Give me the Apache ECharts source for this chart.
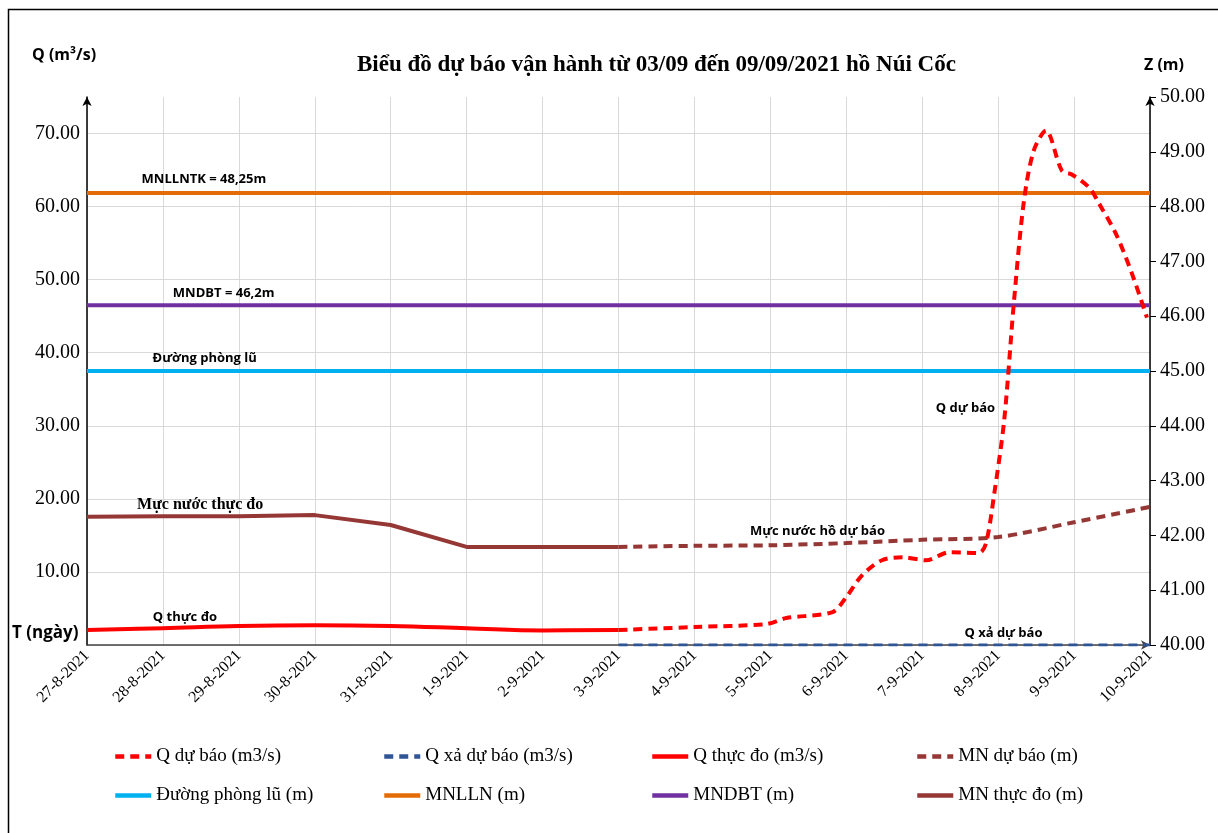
<!DOCTYPE html>
<html>
<head>
<meta charset="utf-8">
<script src="https://cdn.jsdelivr.net/npm/echarts@6/dist/echarts.min.js"></script>
<style>html,body{margin:0;padding:0;background:#fff}#c{width:1218px;height:833px}</style>
</head>
<body>
<div id="c"></div>
<script>
// Day labels (x index 0..14)
var dates = ['27-8-2021','28-8-2021','29-8-2021','30-8-2021','31-8-2021','1-9-2021','2-9-2021','3-9-2021','4-9-2021','5-9-2021','6-9-2021','7-9-2021','8-9-2021','9-9-2021','10-9-2021'];

// Q forecast (m3/s): [day index, value]
var qForecast = [[7,2.05],[8,2.46],[8.95,2.87],[9.21,3.69],[9.82,4.51],[10.0,6.56],[10.21,9.57],[10.47,11.6],[10.74,12.0],[11.05,11.6],[11.36,12.7],[11.75,12.6],[11.84,13.9],[11.95,20.8],[12.08,30.8],[12.21,47.2],[12.34,60.8],[12.47,67.7],[12.63,70.4],[12.84,64.9],[12.97,64.4],[13.2,62.6],[13.33,60.4],[13.55,56.3],[13.76,50.9],[13.96,44.8]];
// Q discharge forecast
var qRelease = [[7,0],[8,0],[9,0],[10,0],[11,0],[12,0],[13,0],[14,0]];
// Q measured
var qMeasured = [[0,2.05],[1,2.3],[2,2.6],[3,2.7],[4,2.6],[5,2.3],[6,2.0],[7,2.05]];
// Water level forecast (m)
var zForecast = [[7,41.79],[8,41.81],[9,41.82],[10,41.86],[11,41.92],[12,41.97],[13,42.24],[14,42.52]];
// Water level measured (m)
var zMeasured = [[0,42.34],[1,42.35],[2,42.35],[3,42.37],[4,42.19],[5,41.79],[6,41.79],[7,41.79]];
// Reference levels
var floodLine = [[0,45.0],[14,45.0]];
var mnlln = [[0,48.25],[14,48.25]];
var mndbt = [[0,46.2],[14,46.2]];

var serif = 'Liberation Serif';
var sans = 'Open Sans';

function ann(text, coord, font, size) {
  return {
    symbol: 'circle', symbolSize: 0,
    data: [{coord: coord, value: text}],
    label: {show: true, position: 'inside', formatter: text, color: '#000',
      fontFamily: font, fontWeight: 'bold', fontSize: size}
  };
}

var chart = echarts.init(document.getElementById('c'));
var legendText = {fontFamily: serif, fontSize: 19, color: '#000'};
function col(left, items) {
  return {left: left, top: 747, orient: 'vertical', itemGap: 20, itemWidth: 36, itemHeight: 16,
    data: items, textStyle: legendText, padding: 0,
    itemStyle: {opacity: 0}, lineStyle: {width: 4.5}};
}
chart.setOption({
  animation: false,
  title: {text: 'Biểu đồ dự báo vận hành từ 03/09 đến 09/09/2021 hồ Núi Cốc', left: 352, top: 49,
    textStyle: {fontFamily: serif, fontWeight: 'bold', fontSize: 23, color: '#000'}},
  graphic: [
    {type: 'polyline', shape: {points: [[8.5,833],[8.5,9.5],[1218,9.5]]}, style: {stroke: '#000', lineWidth: 1.5, fill: null}},
    {type: 'text', left: 32, top: 47, style: {text: 'Q (m³/s)', fontFamily: sans, fontWeight: 'bold', fontSize: 16, fill: '#000'}},
    {type: 'text', left: 1144, top: 57, style: {text: 'Z (m)', fontFamily: sans, fontWeight: 'bold', fontSize: 16, fill: '#000'}},
    {type: 'text', left: 12, top: 625, style: {text: 'T (ngày)', fontFamily: sans, fontWeight: 'bold', fontSize: 17, fill: '#000'}}
  ],
  legend: [
    col(113, ['Q dự báo (m3/s)', 'Đường phòng lũ (m)']),
    col(382, ['Q xả dự báo (m3/s)', 'MNLLN (m)']),
    col(650, ['Q thực đo (m3/s)', 'MNDBT (m)']),
    col(915, ['MN dự báo (m)', 'MN thực đo (m)'])
  ],
  grid: {left: 87, right: 68, top: 97, bottom: 188},
  xAxis: {
    type: 'value', min: 0, max: 14, interval: 1,
    axisLine: {lineStyle: {color: '#444', width: 1.5}, symbol: ['none', 'arrow'], symbolSize: [7, 9]},
    axisTick: {show: false},
    axisLabel: {rotate: 45, formatter: function (v) { return dates[v] || ''; }, fontFamily: serif, fontSize: 16, color: '#000', margin: 8},
    splitLine: {show: true, lineStyle: {color: '#d9d9d9', width: 1}}
  },
  yAxis: [
    {type: 'value', min: 0, max: 75, interval: 10,
      axisLine: {show: true, onZero: false, lineStyle: {color: '#000', width: 1.5}, symbol: ['none', 'arrow'], symbolSize: [7, 9]},
      axisTick: {show: false},
      axisLabel: {formatter: function (v) { return v.toFixed(2); }, showMaxLabel: false, showMinLabel: false, fontFamily: serif, fontSize: 20, color: '#000', margin: 7},
      splitLine: {show: true, showMaxLine: false, lineStyle: {color: '#d9d9d9', width: 1}}
    },
    {type: 'value', min: 40, max: 50, interval: 1, position: 'right',
      axisLine: {show: true, onZero: false, lineStyle: {color: '#000', width: 1.5}, symbol: ['none', 'arrow'], symbolSize: [7, 9]},
      axisTick: {show: true, length: 6, lineStyle: {color: '#000'}},
      axisLabel: {formatter: function (v) { return v.toFixed(2); }, fontFamily: serif, fontSize: 20, color: '#000', margin: 10},
      splitLine: {show: false}
    }
  ],
  series: [
    {name: 'Q dự báo (m3/s)', type: 'line', yAxisIndex: 0, data: qForecast, symbol: 'none', smooth: 0.3,
      lineStyle: {color: '#FF0000', width: 4, type: [9, 6]}, itemStyle: {color: '#FF0000'}, z: 5,
      markPoint: ann('Q dự báo', [11.57, 32.4], sans, 13)},
    {name: 'Q xả dự báo (m3/s)', type: 'line', yAxisIndex: 0, data: qRelease, symbol: 'none',
      lineStyle: {color: '#2F5597', width: 3, type: [9, 6]}, itemStyle: {color: '#2F5597'}, z: 4,
      markPoint: ann('Q xả dự báo', [12.07, 1.64], sans, 13)},
    {name: 'Q thực đo (m3/s)', type: 'line', yAxisIndex: 0, data: qMeasured, symbol: 'none', smooth: 0.4,
      lineStyle: {color: '#FF0000', width: 4}, itemStyle: {color: '#FF0000'},
      markPoint: ann('Q thực đo', [1.29, 3.8], sans, 13)},
    {name: 'MN dự báo (m)', type: 'line', yAxisIndex: 1, data: zForecast, symbol: 'none', smooth: 0.3,
      lineStyle: {color: '#953735', width: 4, type: [9, 6]}, itemStyle: {color: '#953735'},
      markPoint: ann('Mực nước hồ dự báo', [9.62, 42.08], sans, 13)},
    {name: 'Đường phòng lũ (m)', type: 'line', yAxisIndex: 1, data: floodLine, symbol: 'none',
      lineStyle: {color: '#00B0F0', width: 4}, itemStyle: {color: '#00B0F0'},
      markPoint: ann('Đường phòng lũ', [1.55, 45.24], sans, 13)},
    {name: 'MNLLN (m)', type: 'line', yAxisIndex: 1, data: mnlln, symbol: 'none',
      lineStyle: {color: '#E36C09', width: 4}, itemStyle: {color: '#E36C09'},
      markPoint: ann('MNLLNTK = 48,25m', [1.54, 48.5], sans, 13)},
    {name: 'MNDBT (m)', type: 'line', yAxisIndex: 1, data: mndbt, symbol: 'none',
      lineStyle: {color: '#7030A0', width: 4}, itemStyle: {color: '#7030A0'},
      markPoint: ann('MNDBT = 46,2m', [1.80, 46.42], sans, 13)},
    {name: 'MN thực đo (m)', type: 'line', yAxisIndex: 1, data: zMeasured, symbol: 'none',
      lineStyle: {color: '#953735', width: 4}, itemStyle: {color: '#953735'},
      markPoint: ann('Mực nước thực đo', [1.49, 42.55], serif, 16)}
  ]
});
</script>
</body>
</html>
